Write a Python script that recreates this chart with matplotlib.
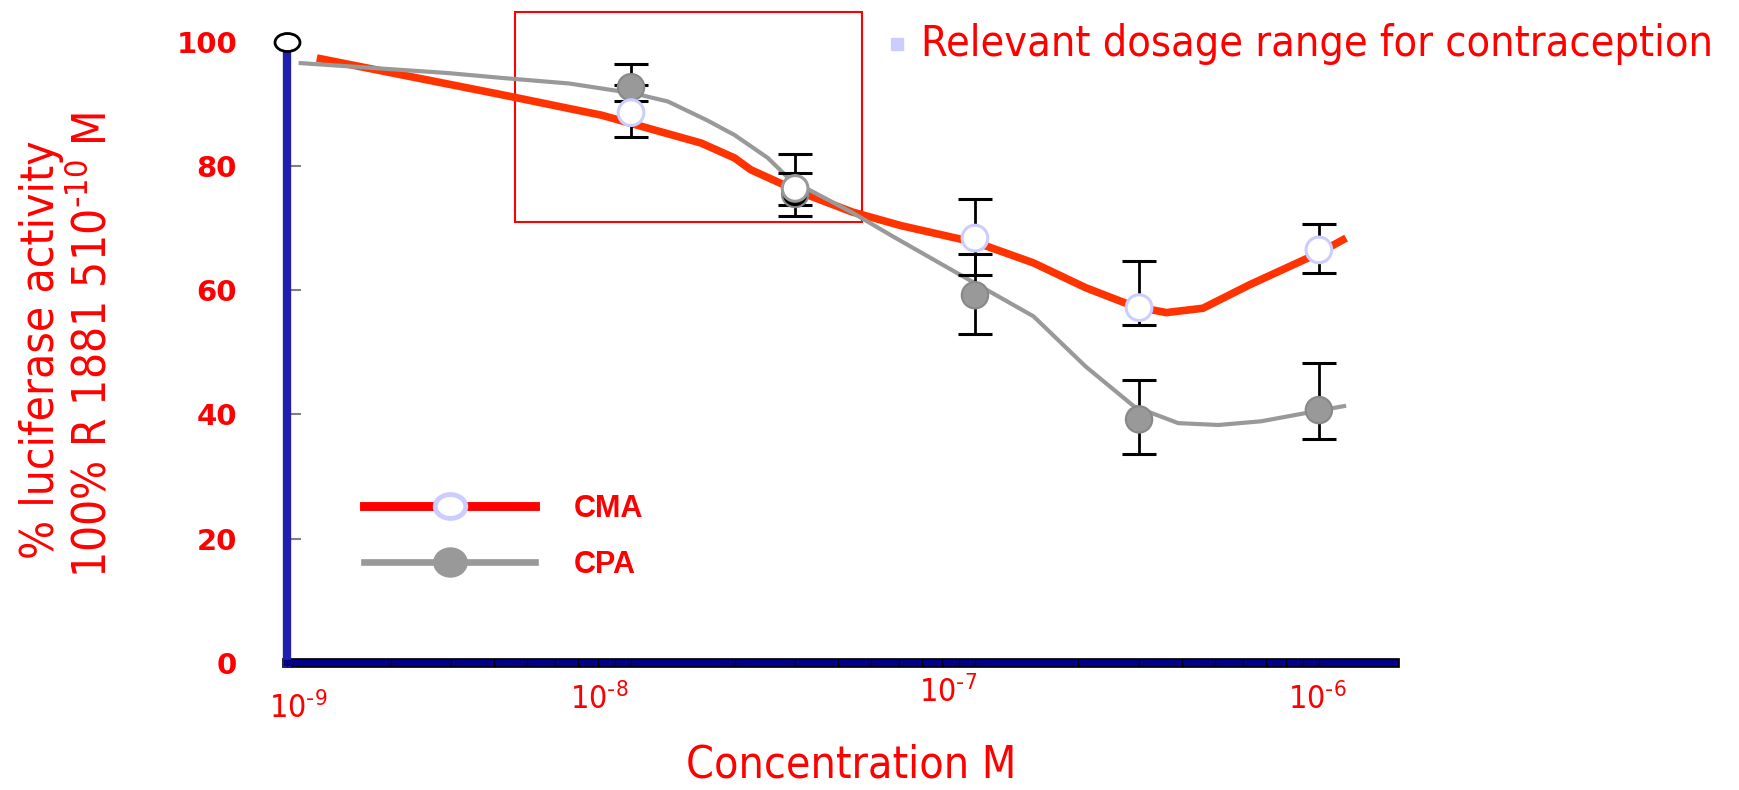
import matplotlib
matplotlib.use('Agg')
import matplotlib.pyplot as plt
from matplotlib.lines import Line2D
from matplotlib.patches import Rectangle
from matplotlib.path import Path
from matplotlib.transforms import Affine2D, ScaledTranslation
from matplotlib.ticker import LogLocator, FixedLocator, FixedFormatter, NullFormatter

# measured points (mean and asymmetric error bars)
conc = [1e-8, 3e-8, 1e-7, 3e-7, 1e-6]
cma = [88.6, 76.4, 68.4, 57.2, 66.5]
cma_err_low = [3.9, 2.7, 5.9, 2.8, 3.8]
cma_err_high = [4.5, 2.5, 6.3, 7.5, 4.1]
cpa = [92.7, 75.5, 59.2, 39.2, 40.7]
cpa_err_low = [2.2, 3.6, 6.3, 5.6, 4.7]
cpa_err_high = [3.8, 6.4, 6.6, 6.4, 7.6]

# control point, 100 %
ctrl_conc = [1e-9]
ctrl_val = [100]

# the hand-smoothed curves
cma_curve_x = [1.22e-9, 4.2e-9, 8.2e-9, 1.28e-8, 1.6e-8, 2.0e-8, 2.23e-8, 3.1e-8, 4.4e-8,
               6.1e-8, 1.02e-7, 1.48e-7, 2.1e-7, 2.9e-7, 3.6e-7, 4.6e-7, 6.3e-7, 1.0e-6, 1.2e-6]
cma_curve_y = [97.4, 91.5, 88.2, 85.2, 83.7, 81.3, 79.4, 75.8, 72.6,
               70.4, 67.6, 64.4, 60.4, 57.4, 56.4, 57.1, 60.9, 66.0, 68.4]
cpa_curve_x = [1.08e-9, 2.9e-9, 4.2e-9, 6.6e-9, 1.02e-8, 1.28e-8, 1.66e-8, 2.0e-8, 2.5e-8,
               2.9e-8, 4.4e-8, 5.8e-8, 1.04e-7, 1.48e-7, 2.1e-7, 2.9e-7, 3.9e-7, 5.1e-7,
               6.8e-7, 1.02e-6, 1.2e-6]
cpa_curve_y = [96.6, 95.0, 94.2, 93.3, 91.7, 90.4, 87.4, 85.0, 81.3,
               77.8, 72.5, 68.6, 60.6, 55.8, 47.7, 41.3, 38.6, 38.3,
               38.9, 40.7, 41.4]

# relevant dosage range box
box_x = [4.6e-9, 4.7e-8]
box_y = [71.0, 104.8]

x_ticks = [1e-9, 1e-8, 1e-7, 1e-6]
x_tick_labels = [r'$\mathregular{10^{\text{-}9}}$', r'$\mathregular{10^{\text{-}8}}$',
                 r'$\mathregular{10^{\text{-}7}}$', r'$\mathregular{10^{\text{-}6}}$']
y_ticks = [0, 20, 40, 60, 80, 100]

cond = dict(family='DejaVu Sans', fontstretch='condensed')

fig = plt.figure(figsize=(17.4, 7.9), dpi=100)
ax = fig.add_axes([0.165, 0.161, 0.637, 0.786])

ax.plot(cma_curve_x, cma_curve_y, color='#ff3300', lw=5.5, zorder=2, solid_capstyle='butt')
ax.plot(cpa_curve_x, cpa_curve_y, color='#999999', lw=3, zorder=2, solid_capstyle='butt')

ax.errorbar(conc, cpa, yerr=[cpa_err_low, cpa_err_high], fmt='none', ecolor='black',
            elinewidth=2, capsize=12, capthick=2.2, zorder=3)
ax.errorbar(conc, cma, yerr=[cma_err_low, cma_err_high], fmt='none', ecolor='black',
            elinewidth=2, capsize=12, capthick=2.2, zorder=3)

cpa_face = ['#999999', 'black', '#999999', '#999999', '#999999']
cma_edge = ['#ccccff', '#999999', '#ccccff', '#ccccff', '#ccccff']
ax.scatter(conc, cpa, s=19**2, c=cpa_face, edgecolors='#888888', linewidths=1.5, zorder=4)
ax.scatter(conc, cma, s=18.5**2, c='white', edgecolors=cma_edge, linewidths=2.2, zorder=5)

oval = Path.unit_circle().transformed(Affine2D().scale(1, 0.72))
ax.plot(ctrl_conc, ctrl_val, marker=oval, ms=18, mfc='white', mec='black', mew=2,
        ls='none', clip_on=False, zorder=6)

ax.add_patch(Rectangle((box_x[0], box_y[0]), box_x[1] - box_x[0], box_y[1] - box_y[0],
                       fill=False, ec='red', lw=1.5, clip_on=False, zorder=1))

ax.set_xscale('log')
ax.set_xlim(1e-9, 1.67e-6)
ax.set_ylim(0, 100)

for s in ['top', 'right']:
    ax.spines[s].set_visible(False)
ax.spines['left'].set_color('#2020b0')
ax.spines['left'].set_linewidth(6)
ax.spines['left'].set_zorder(3)
ax.spines['bottom'].set_color('black')
ax.spines['bottom'].set_linewidth(7)
ax.axhline(0, color='#00008b', lw=4.5, zorder=3.2, clip_on=False)

ax.xaxis.set_major_locator(FixedLocator(x_ticks))
ax.xaxis.set_major_formatter(FixedFormatter(x_tick_labels))
ax.xaxis.set_minor_locator(LogLocator(base=10, subs=range(2, 10)))
ax.xaxis.set_minor_formatter(NullFormatter())
ax.xaxis.set_zorder(4)
ax.tick_params(axis='x', which='both', direction='inout', length=5, width=1, color='black',
               pad=19, labelsize=23, labelcolor='red')
# the slide's tick labels sit a little off their ticks
label_shift = [(8, 0), (-23, 7), (-19, 12), (-1.5, 7)]
for t, (dx, dy) in zip(ax.get_xticklabels(), label_shift):
    t.set_family('DejaVu Sans')
    t.set_fontstretch('condensed')
    t.set_transform(t.get_transform() + ScaledTranslation(dx / 72, dy / 72, fig.dpi_scale_trans))

ax.set_yticks(y_ticks)
ax.tick_params(axis='y', direction='in', length=10, width=1.5, color='#808080',
               pad=36, labelsize=21, labelcolor='red')
for t in ax.get_yticklabels():
    t.set_fontweight('bold')

# y label, two lines
fig.text(42 / 1740, 0.557, '% luciferase activity', rotation=90, ha='center', va='center',
         color='red', fontsize=33, **cond)
fig.text(93 / 1740, 0.563, r'100% R 1881 510$\mathregular{^{\text{-}10}}$ M', rotation=90,
         ha='center', va='center', color='red', fontsize=33, **cond)

fig.text(851 / 1740, 1 - 765 / 790, 'Concentration M', ha='center', va='center',
         color='red', fontsize=32, **cond)

fig.add_artist(Line2D([897 / 1740], [1 - 44 / 790], marker='s', ms=8, color='#ccccff',
                      transform=fig.transFigure))
fig.text(921 / 1740, 1 - 44 / 790, 'Relevant dosage range for contraception', ha='left',
         va='center', color='red', fontsize=31, **cond)

leg_oval = Path.unit_circle().transformed(Affine2D().scale(1, 0.78))
grey_oval = Path.unit_circle().transformed(Affine2D().scale(1, 0.87))
h1 = Line2D([], [], color='red', lw=6.4, marker=leg_oval, ms=22, mfc='white',
            mec='#ccccff', mew=3.5)
h2 = Line2D([], [], color='#999999', lw=4.8, marker=grey_oval, ms=24, mfc='#999999',
            mec='#999999')
ax.legend([h1, h2], ['CMA', 'CPA'], loc='upper left', bbox_to_anchor=(0.0695, 0.272),
          frameon=False, handlelength=5.6, handletextpad=1.25, labelspacing=0.85,
          borderpad=0, borderaxespad=0, numpoints=1, labelcolor='red',
          prop=dict(family='Liberation Sans', weight='bold', size=22))

fig.savefig('out.png', dpi=100)
